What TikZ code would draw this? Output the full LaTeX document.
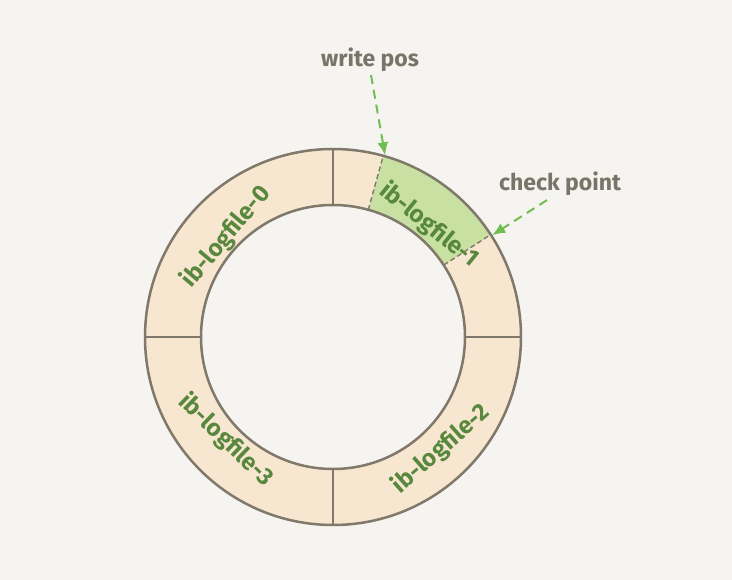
\documentclass[tikz,border=0pt]{standalone}
\usepackage{fontspec}
\setmainfont{Fira Sans}
\usetikzlibrary{arrows.meta}
\definecolor{bg}{RGB}{245,244,240}
\definecolor{ringfill}{RGB}{248,231,208}
\definecolor{greenfill}{RGB}{200,225,162}
\definecolor{outline}{RGB}{128,120,106}
\definecolor{graytext}{RGB}{120,116,104}
\definecolor{greentext}{RGB}{88,135,62}
\definecolor{arrowgreen}{RGB}{112,190,82}
\tikzset{
  filelabel/.style={text=greentext, font=\fontsize{24}{24}\selectfont\bfseries, inner sep=0pt},
  marklabel/.style={text=graytext, font=\fontsize{23}{23}\selectfont\bfseries, inner sep=1pt},
  pointer/.style={draw=arrowgreen, line width=2pt, dash pattern=on 9pt off 6pt,
    -{Latex[length=13pt,width=11pt]}},
  ringline/.style={draw=outline, line width=2.5pt},
  divider/.style={draw=outline, line width=1.4pt},
  dashdivider/.style={draw=outline, line width=1.4pt, dash pattern=on 5pt off 3pt}
}
\begin{document}
\begin{tikzpicture}[x=1pt,y=-1pt]
\fill[bg] (0,0) rectangle (732,580);
\useasboundingbox (0,0) rectangle (732,580);
\begin{scope}[shift={(333,337)}, y=1pt]
  \fill[ringfill, even odd rule] (0,0) circle[radius=188] (0,0) circle[radius=132];
  \fill[greenfill] (33:188) arc[start angle=33, end angle=74.5, radius=188]
    -- (74.5:132) arc[start angle=74.5, end angle=33, radius=132] -- cycle;
  \draw[divider] (90:132) -- (90:188);
  \draw[divider] (180:132) -- (180:188);
  \draw[divider] (270:132) -- (270:188);
  \draw[divider] (0:132) -- (0:188);
  \draw[dashdivider] (74.5:132) -- (74.5:188);
  \draw[dashdivider] (33:132) -- (33:188);
  \draw[ringline] (0,0) circle[radius=188];
  \draw[ringline] (0,0) circle[radius=132];
  \coordinate (wpt) at (74:189);
  \coordinate (cpt) at (32.6:189);
\end{scope}
\node[filelabel, rotate=50] (f0) at (226,237) {ib-logfile-0};
\node[filelabel, rotate=-39] (f1) at (429,225) {ib-logfile-1};
\node[filelabel, rotate=41.5] (f2) at (441,449) {ib-logfile-2};
\node[filelabel, rotate=-44] (f3) at (226,440) {ib-logfile-3};
\node[marklabel] (wp) at (370,60) {write pos};
\node[marklabel] (cp) at (560,184) {check point};
\draw[pointer] ([shift={(1,2)}]wp.south) -- (wpt);
\draw[pointer] ([shift={(-13,3)}]cp.south) -- (cpt);
\end{tikzpicture}
\end{document}
